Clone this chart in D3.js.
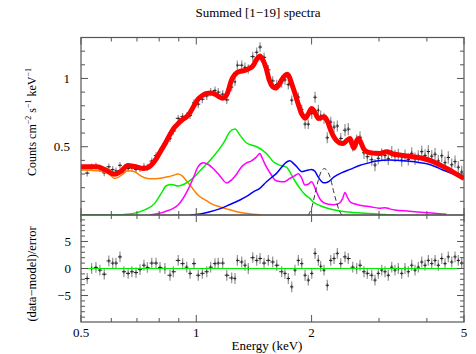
<!DOCTYPE html>
<html><head><meta charset="utf-8">
<script src="https://cdn.jsdelivr.net/npm/d3@7"></script>
<style>
html,body{margin:0;padding:0;background:#fff;}
svg{display:block;}
text{font-family:"Liberation Serif","Times New Roman",serif;fill:#000;}
</style>
</head><body>
<svg id="c" width="476" height="354"></svg>
<script>
// ---------- DATA ----------
const titleText = "Summed [1\u221219] spectra";
const xMajorTicks = [0.5, 1, 2, 5];
const xTickLabels = ["0.5", "1", "2", "5"];
const xMinorTicks = [0.6, 0.7, 0.8, 0.9, 3, 4];
const yTopMajorTicks = [0.5, 1];
const yTopTickLabels = ["0.5", "1"];
const yTopMinorTicks = [0.1, 0.2, 0.3, 0.4, 0.6, 0.7, 0.8, 0.9, 1.1, 1.2];
const yResMajorTicks = [-5, 0, 5];
const yResTickLabels = ["\u22125", "0", "5"];
const yResMinorTicks = [-9, -8, -7, -6, -4, -3, -2, -1, 1, 2, 3, 4, 6, 7, 8, 9];

// observed spectrum (energy keV, counts, 1-sigma error)
const dataE = [0.519,0.533,0.547,0.560,0.575,0.591,0.605,0.617,0.632,0.647,0.664,0.679,0.696,0.713,0.730,0.745,0.765,0.785,0.804,0.828,
0.854,0.871,0.897,0.921,0.944,0.963,0.986,1.012,1.037,1.065,1.090,1.119,1.141,1.172,1.201,1.237,1.262,1.280,1.314,1.340,
1.367,1.404,1.438,1.467,1.503,1.542,1.583,1.622,1.671,1.704,1.739,1.775,1.810,1.847,1.885,1.923,1.961,2.002,2.042,2.083,
2.112,2.155,2.198,2.244,2.289,2.335,2.383,2.445,2.494,2.561,2.623,2.676,2.741,2.796,2.871,2.928,2.987,3.049,3.110,3.172,
3.238,3.302,3.369,3.438,3.507,3.578,3.651,3.725,3.799,3.878,3.956,4.035,4.118,4.201,4.285,4.374,4.461,4.550,4.644,4.737,4.832,4.931];
const dataV = [0.307,0.353,0.358,0.340,0.309,0.353,0.333,0.323,0.364,0.330,0.340,0.345,0.333,0.340,0.356,0.350,0.395,0.435,0.465,0.520,
0.559,0.615,0.708,0.722,0.726,0.728,0.822,0.812,0.848,0.872,0.900,0.912,0.900,0.885,0.843,0.937,0.975,1.097,1.097,1.081,
1.070,1.160,1.192,1.230,1.155,1.063,0.982,0.956,0.969,0.989,0.955,0.841,0.880,0.863,0.772,0.666,0.665,0.744,0.862,0.767,
0.726,0.708,0.566,0.680,0.644,0.652,0.561,0.621,0.629,0.510,0.545,0.569,0.456,0.427,0.405,0.366,0.415,0.443,0.436,0.412,
0.460,0.433,0.440,0.401,0.434,0.407,0.452,0.412,0.430,0.464,0.436,0.465,0.431,0.445,0.396,0.434,0.383,0.421,0.368,0.391,0.350,0.315];
const dataErr = [0.025,0.025,0.025,0.025,0.025,0.025,0.025,0.025,0.025,0.025,0.025,0.025,0.025,0.025,0.025,0.025,0.025,0.025,0.025,0.025,
0.025,0.025,0.025,0.025,0.025,0.025,0.025,0.03,0.03,0.03,0.03,0.03,0.03,0.03,0.03,0.03,0.03,0.035,0.035,0.035,
0.035,0.035,0.035,0.035,0.035,0.035,0.035,0.035,0.035,0.035,0.035,0.035,0.035,0.035,0.035,0.035,0.035,0.04,0.04,0.04,
0.04,0.04,0.04,0.04,0.04,0.04,0.04,0.045,0.045,0.045,0.045,0.045,0.045,0.045,0.045,0.045,0.045,0.045,0.045,0.045,
0.045,0.045,0.045,0.045,0.045,0.045,0.045,0.045,0.045,0.045,0.045,0.045,0.045,0.045,0.045,0.045,0.045,0.045,0.045,0.045,0.045,0.045];
// residuals (data-model)/error
const residV = [-1.85,0,0.2,-0.3,-1.05,1.4,1.0,1.0,2.15,-0.6,-0.9,-0.6,-0.75,-0.2,0.6,0.2,1.0,1.0,0.2,0,
-1.25,-0.6,1.5,0.9,0.25,-0.9,0.9,-1.25,-0.9,-0.6,0.25,0.9,1.0,1.0,-1.25,-1.75,-1.85,1.5,1.2,0.6,
0,2.0,1.5,1.85,1.0,1.5,1.2,0.6,-0.6,-0.9,-1.85,-3.4,-0.3,1.5,0.9,-1.25,-2.15,-0.9,2.8,1.5,
0.4,-0.3,-3.1,1.5,1.85,2.8,0.9,2.15,1.85,0.25,0,0.6,-0.6,-0.9,-1.25,-2.15,-0.9,-0.3,-0.6,-1.25,
0.25,-0.3,0,-0.9,0,-0.6,0.6,-0.3,0.25,1.2,0.6,1.5,0.9,1.5,0.6,1.85,0.9,2.15,1.2,2.15,1.5,1.0];

// total model (red)
const modelE = [0.50,0.55,0.58,0.612,0.635,0.663,0.69,0.725,0.745,0.765,0.785,0.804,0.828,0.854,0.871,0.897,0.921,0.944,0.963,0.986,
1.012,1.037,1.065,1.09,1.119,1.141,1.172,1.201,1.237,1.262,1.28,1.314,1.34,1.367,1.404,1.438,1.465,1.49,1.52,1.55,
1.583,1.61,1.64,1.671,1.704,1.725,1.75,1.775,1.81,1.847,1.885,1.923,1.961,2.0,2.042,2.083,2.112,2.155,2.198,2.244,
2.289,2.335,2.383,2.42,2.47,2.52,2.55,2.58,2.623,2.65,2.69,2.741,2.79,2.87,2.93,3.02,3.08,3.15,3.24,3.4,
3.65,3.92,4.12,4.33,4.55,4.74,5.0];
const modelV = [0.353,0.353,0.330,0.298,0.320,0.362,0.355,0.341,0.345,0.370,0.410,0.460,0.520,0.590,0.630,0.670,0.700,0.720,0.750,0.800,
0.850,0.875,0.890,0.893,0.885,0.870,0.855,0.880,0.990,1.030,1.045,1.055,1.060,1.070,1.090,1.140,1.165,1.140,1.080,0.990,
0.940,0.930,0.950,0.990,1.020,1.030,1.010,0.960,0.890,0.810,0.740,0.710,0.740,0.780,0.750,0.707,0.710,0.720,0.690,0.620,
0.570,0.540,0.525,0.524,0.545,0.561,0.520,0.490,0.545,0.561,0.530,0.480,0.463,0.455,0.452,0.451,0.458,0.463,0.450,0.439,
0.428,0.414,0.395,0.366,0.335,0.305,0.268];

// model components
const orangeE = [0.5,0.53,0.554,0.575,0.588,0.6,0.612,0.625,0.637,0.65,0.663,0.69,0.705,0.718,0.747,0.77,0.794,0.82,0.843,0.87,
0.896,0.915,0.932,0.95,0.97,0.99,1.01,1.04,1.063,1.1,1.15,1.2,1.275,1.34,1.41,1.48];
const orangeV = [0.330,0.327,0.324,0.315,0.305,0.285,0.268,0.275,0.292,0.310,0.324,0.317,0.300,0.285,0.268,0.266,0.268,0.273,0.280,0.290,
0.300,0.290,0.268,0.240,0.207,0.175,0.146,0.120,0.105,0.080,0.061,0.045,0.024,0.013,0.006,0.0];
const greenE = [0.5,0.6,0.68,0.733,0.779,0.81,0.835,0.862,0.896,0.932,0.98,1.02,1.063,1.107,1.176,1.224,1.262,1.30,1.35,1.438,
1.525,1.59,1.65,1.72,1.76,1.80,1.86,1.90,1.94,1.98,2.02,2.1,2.2,2.4,2.7,3.1,3.3];
const greenV = [0.002,0.0,0.010,0.037,0.085,0.159,0.214,0.224,0.212,0.227,0.270,0.320,0.373,0.426,0.524,0.609,0.629,0.585,0.529,0.500,
0.451,0.390,0.365,0.350,0.310,0.260,0.200,0.165,0.140,0.120,0.095,0.070,0.050,0.028,0.014,0.004,0.0];
const magentaE = [0.756,0.827,0.896,0.955,0.985,1.01,1.043,1.075,1.107,1.15,1.2,1.24,1.275,1.31,1.35,1.39,1.43,1.465,1.49,1.525,
1.565,1.605,1.65,1.69,1.755,1.80,1.847,1.885,1.92,1.96,2.0,2.03,2.06,2.1,2.15,2.22,2.28,2.36,2.41,2.445,
2.48,2.52,2.6,2.7,2.85,3.0,3.11,3.2,3.3,3.6,4.0,4.3,4.5];
const magentaV = [0.0,0.024,0.073,0.195,0.280,0.353,0.382,0.370,0.341,0.290,0.235,0.260,0.300,0.350,0.380,0.395,0.420,0.450,0.410,0.350,
0.300,0.256,0.245,0.243,0.268,0.285,0.303,0.270,0.220,0.225,0.243,0.215,0.170,0.120,0.090,0.078,0.075,0.085,0.120,0.165,
0.130,0.097,0.080,0.070,0.060,0.050,0.054,0.045,0.037,0.028,0.017,0.010,0.005];
const blueE = [0.963,1.023,1.08,1.15,1.22,1.30,1.36,1.41,1.465,1.525,1.58,1.62,1.66,1.70,1.73,1.755,1.79,1.83,1.86,1.885,
1.92,1.96,2.0,2.04,2.08,2.15,2.2,2.29,2.4,2.52,2.68,2.79,2.95,3.2,3.4,3.6,3.8,4.0,4.2,4.4,4.7,5.0];
const blueV = [0.0,0.007,0.022,0.045,0.075,0.110,0.140,0.170,0.195,0.243,0.280,0.305,0.340,0.375,0.392,0.397,0.380,0.353,0.330,0.317,
0.322,0.329,0.334,0.320,0.280,0.236,0.240,0.280,0.310,0.334,0.365,0.378,0.395,0.402,0.400,0.393,0.385,0.375,0.355,0.330,0.300,0.265];
const gaussE = [1.96,2.0,2.04,2.08,2.12,2.16,2.2,2.24,2.28,2.32,2.36,2.40];
const gaussV = [0.0,0.05,0.15,0.25,0.32,0.34,0.32,0.27,0.18,0.10,0.035,0.0];

// ---------- CHART ----------
const svg = d3.select("#c");
const x = d3.scaleLog().domain([0.5, 5]).range([81, 464]);
const yT = d3.scaleLinear().domain([0, 1.3]).range([215, 37.5]);
const yB = d3.scaleLinear().domain([-9.9, 9.9]).range([322, 215]);
const L = 81, R = 464;

const defs = svg.append("defs");
defs.append("clipPath").attr("id", "clipT").append("rect").attr("x", L).attr("y", 37.5).attr("width", R - L).attr("height", 215 - 37.5);
defs.append("clipPath").attr("id", "clipB").append("rect").attr("x", L).attr("y", 215).attr("width", R - L).attr("height", 322 - 215);

// bin edges from neighbouring energies
const edges = dataE.map((e, i) => {
  const lo = i > 0 ? Math.sqrt(e * dataE[i - 1]) : e * e / Math.sqrt(e * dataE[i + 1]);
  const hi = i < dataE.length - 1 ? Math.sqrt(e * dataE[i + 1]) : e * e / Math.sqrt(e * dataE[i - 1]);
  return [lo, hi];
});

// top panel
const gT = svg.append("g").attr("clip-path", "url(#clipT)");
dataE.forEach((e, i) => {
  gT.append("line").attr("x1", x(e)).attr("x2", x(e))
    .attr("y1", yT(dataV[i] - dataErr[i])).attr("y2", yT(dataV[i] + dataErr[i]))
    .attr("stroke", "#999").attr("stroke-width", 1.3);
  gT.append("line").attr("x1", x(e)).attr("x2", x(e))
    .attr("y1", yT(dataV[i] - dataErr[i] * 0.35)).attr("y2", yT(dataV[i] + dataErr[i] * 0.35))
    .attr("stroke", "#333").attr("stroke-width", 0.8);
  gT.append("line").attr("x1", x(edges[i][0])).attr("x2", x(edges[i][1]))
    .attr("y1", yT(dataV[i])).attr("y2", yT(dataV[i]))
    .attr("stroke", "#222").attr("stroke-width", 1);
});

const mk = (E, V, ys) => d3.line().x((d, i) => x(E[i])).y((d, i) => ys(V[i])).curve(d3.curveMonotoneX)(E);
const comps = [
  [orangeE, orangeV, "#ff8000"],
  [greenE, greenV, "#00ee00"],
  [magentaE, magentaV, "#ff00ff"],
  [blueE, blueV, "#0000ff"]
];
comps.forEach(c => {
  gT.append("path").attr("d", mk(c[0], c[1], yT)).attr("fill", "none")
    .attr("stroke", c[2]).attr("stroke-width", 1.5);
});
gT.append("path").attr("d", mk(gaussE, gaussV, yT)).attr("fill", "none")
  .attr("stroke", "#333").attr("stroke-width", 1).attr("stroke-dasharray", "5,3");
gT.append("path").attr("d", mk(modelE, modelV, yT)).attr("fill", "none")
  .attr("stroke", "#ff0000").attr("stroke-width", 5).attr("stroke-linejoin", "round");

// residual panel
const gB = svg.append("g").attr("clip-path", "url(#clipB)");
dataE.forEach((e, i) => {
  gB.append("line").attr("x1", x(e)).attr("x2", x(e))
    .attr("y1", yB(residV[i] - 1)).attr("y2", yB(residV[i] + 1))
    .attr("stroke", "#999").attr("stroke-width", 1.3);
  gB.append("line").attr("x1", x(e)).attr("x2", x(e))
    .attr("y1", yB(residV[i] - 0.35)).attr("y2", yB(residV[i] + 0.35))
    .attr("stroke", "#333").attr("stroke-width", 0.8);
  gB.append("line").attr("x1", x(edges[i][0])).attr("x2", x(edges[i][1]))
    .attr("y1", yB(residV[i])).attr("y2", yB(residV[i]))
    .attr("stroke", "#222").attr("stroke-width", 1);
});
gB.append("line").attr("x1", L).attr("x2", R).attr("y1", yB(0)).attr("y2", yB(0))
  .attr("stroke", "#00ee00").attr("stroke-width", 1.2);

// frames and ticks
const axc = "#555";
const fr = svg.append("g").attr("stroke", axc).attr("fill", "none");
fr.append("rect").attr("x", L).attr("y", 37.5).attr("width", R - L).attr("height", 215 - 37.5).attr("stroke-width", 1.2);
fr.append("rect").attr("x", L).attr("y", 215).attr("width", R - L).attr("height", 322 - 215).attr("stroke-width", 1.2);

function xt(v, len, ytop, ybot) {
  fr.append("line").attr("x1", x(v)).attr("x2", x(v)).attr("y1", ytop).attr("y2", ytop + len);
  fr.append("line").attr("x1", x(v)).attr("x2", x(v)).attr("y1", ybot).attr("y2", ybot - len);
}
[[37.5, 215], [215, 322]].forEach(p => {
  xMajorTicks.forEach(v => xt(v, 7, p[0], p[1]));
  xMinorTicks.forEach(v => xt(v, 4, p[0], p[1]));
});
function yt(scale, v, len) {
  fr.append("line").attr("x1", L).attr("x2", L + len).attr("y1", scale(v)).attr("y2", scale(v));
  fr.append("line").attr("x1", R).attr("x2", R - len).attr("y1", scale(v)).attr("y2", scale(v));
}
yTopMajorTicks.forEach(v => yt(yT, v, 7));
yTopMinorTicks.forEach(v => yt(yT, v, 4));
yResMajorTicks.forEach(v => yt(yB, v, 7));
yResMinorTicks.forEach(v => yt(yB, v, 4));

// labels
const fs = 13;
xMajorTicks.forEach((v, i) => {
  svg.append("text").attr("x", x(v)).attr("y", 337).attr("text-anchor", "middle")
    .attr("font-size", fs).text(xTickLabels[i]);
});
yTopMajorTicks.forEach((v, i) => {
  svg.append("text").attr("x", 70).attr("y", yT(v) + 4.5).attr("text-anchor", "end")
    .attr("font-size", fs).text(yTopTickLabels[i]);
});
yResMajorTicks.forEach((v, i) => {
  svg.append("text").attr("x", 71).attr("y", yB(v) + 4.5).attr("text-anchor", "end")
    .attr("font-size", fs).text(yResTickLabels[i]);
});
svg.append("text").attr("x", 258).attr("y", 17).attr("text-anchor", "middle")
  .attr("font-size", 13).text(titleText);
svg.append("text").attr("x", 267).attr("y", 350).attr("text-anchor", "middle")
  .attr("font-size", 13).text("Energy (keV)");

const yl = svg.append("text").attr("transform", "translate(36,122) rotate(-90)")
  .attr("text-anchor", "middle").attr("font-size", 12);
yl.append("tspan").text("Counts cm");
yl.append("tspan").attr("dy", -5).attr("font-size", 8).text("\u22122");
yl.append("tspan").attr("dy", 5).text(" s");
yl.append("tspan").attr("dy", -5).attr("font-size", 8).text("\u22121");
yl.append("tspan").attr("dy", 5).text(" keV");
yl.append("tspan").attr("dy", -5).attr("font-size", 8).text("\u22121");

svg.append("text").attr("transform", "translate(36,274) rotate(-90)")
  .attr("text-anchor", "middle").attr("font-size", 12.5).text("(data\u2212model)/error");
</script>
</body></html>
